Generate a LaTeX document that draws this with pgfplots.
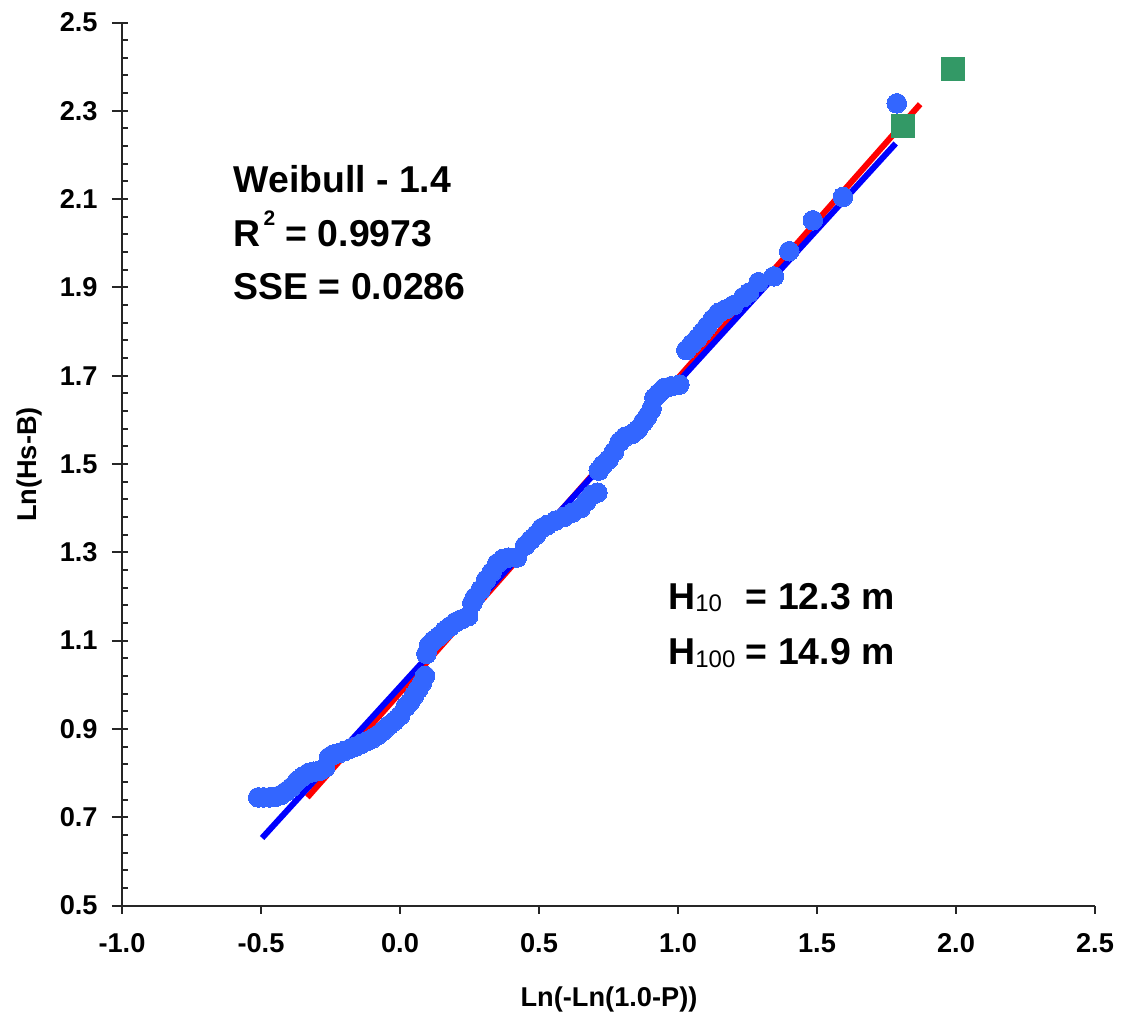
\documentclass[border=0pt]{standalone}
\usepackage{fontspec}
\setmainfont{Liberation Sans}
\usepackage{pgfplots}
\pgfplotsset{compat=1.18}

\definecolor{obsblue}{RGB}{51,102,255}
\definecolor{extgreen}{RGB}{51,153,102}
\definecolor{fitred}{RGB}{255,0,0}
\definecolor{fitblue}{RGB}{0,0,255}

% ranked observations: x = Ln(-Ln(1-P)), y = Ln(Hs-B)
\pgfplotstableread{
x y
-0.51 0.745
-0.49 0.745
-0.47 0.745
-0.45 0.746
-0.43 0.750
-0.41 0.758
-0.39 0.768
-0.37 0.782
-0.35 0.792
-0.33 0.800
-0.31 0.803
-0.29 0.805
-0.27 0.812
-0.255 0.836
-0.24 0.842
-0.22 0.845
-0.20 0.850
-0.18 0.855
-0.16 0.860
-0.14 0.866
-0.12 0.872
-0.10 0.878
-0.08 0.886
-0.06 0.896
-0.04 0.908
-0.02 0.918
0.00 0.930
0.02 0.950
0.035 0.960
0.05 0.975
0.065 0.990
0.08 1.005
0.09 1.020
0.095 1.070
0.105 1.090
0.12 1.100
0.14 1.110
0.16 1.122
0.18 1.132
0.20 1.142
0.22 1.148
0.245 1.155
0.26 1.185
0.27 1.198
0.29 1.215
0.31 1.238
0.33 1.255
0.35 1.275
0.37 1.285
0.39 1.288
0.42 1.288
0.45 1.315
0.47 1.328
0.49 1.340
0.51 1.355
0.53 1.362
0.56 1.372
0.59 1.380
0.62 1.390
0.65 1.400
0.67 1.415
0.69 1.430
0.71 1.435
0.715 1.485
0.73 1.498
0.75 1.510
0.77 1.528
0.79 1.550
0.81 1.562
0.835 1.568
0.855 1.578
0.875 1.595
0.89 1.608
0.905 1.625
0.915 1.650
0.93 1.660
0.95 1.672
0.975 1.676
1.005 1.680
1.03 1.758
1.05 1.772
1.07 1.785
1.09 1.800
1.105 1.812
1.125 1.828
1.145 1.842
1.17 1.850
1.20 1.860
1.235 1.878
1.255 1.888
1.29 1.912
1.345 1.925
1.40 1.982
1.485 2.052
1.593 2.105
1.787 2.317
}\obsdata

\begin{document}
\begin{tikzpicture}
\begin{axis}[
  scale only axis,
  width=486.5pt, height=441.5pt,
  xmin=-1, xmax=2.5, ymin=0.5, ymax=2.5,
  axis lines=left,
  axis line style={-, line width=1pt, black!85},
  clip=false,
  xtick={-1,-0.5,0,0.5,1,1.5,2,2.5},
  ytick={0.5,0.7,0.9,1.1,1.3,1.5,1.7,1.9,2.1,2.3,2.5},
  minor y tick num=4,
  tick align=center,
  major tick length=8pt,
  minor tick length=3pt,
  every tick/.style={line width=1pt, black!85},
  every major y tick/.append style={xshift=-1pt},
  every minor y tick/.append style={xshift=1.5pt},
  every major x tick/.append style={yshift=-2pt, dash pattern=on 0pt off 2pt on 4pt off 2pt},
  tick label style={font=\fontsize{13.6}{16}\selectfont\bfseries},
  xticklabel style={anchor=north, inner sep=0pt, yshift=-10pt},
  yticklabel style={anchor=east, inner sep=0pt, xshift=-8pt},
  /pgf/number format/.cd, fixed, fixed zerofill, precision=1, assume math mode=true,
  /pgfplots/.cd,
  xlabel={Ln(-Ln(1.0-P))},
  ylabel={Ln(Hs-B)},
  every axis x label/.style={at={(rel axis cs:0.5005,-0.1065)}, anchor=center,
    font=\fontsize{13.6}{16}\selectfont\bfseries},
  every axis y label/.style={at={(rel axis cs:-0.0956,0.4994)}, anchor=center, rotate=90,
    font=\fontsize{13.6}{16}\selectfont\bfseries},
]
% picture frame
\path (axis cs:-1.4388,0.2434) rectangle (axis cs:2.5935,2.5510);

\addplot[only marks, mark=*, mark size=4.9pt, mark options={fill=obsblue, draw=obsblue, line width=0pt}]
  table[x=x, y=y] {\obsdata};

\addplot[only marks, mark=square*, mark size=5.75pt, mark options={fill=extgreen, draw=extgreen, line width=0pt}]
  coordinates {(1.810,2.265) (1.990,2.394)};

\addplot[fitred, line width=3pt] coordinates {(-0.333,0.745) (1.871,2.315)};
\addplot[fitblue, line width=3pt] coordinates {(-0.496,0.653) (1.783,2.226)};

\node[anchor=base west, inner sep=0pt, font=\fontsize{18.7}{22}\selectfont\bfseries]
  at (axis cs:-0.60,2.114) {Weibull - 1.4};
\node[anchor=base west, inner sep=0pt, font=\fontsize{18.7}{22}\selectfont\bfseries]
  at (axis cs:-0.60,1.992) {R\hspace{1.5pt}\raisebox{10.5pt}{\fontsize{10.5}{11}\selectfont 2} = 0.9973};
\node[anchor=base west, inner sep=0pt, font=\fontsize{18.7}{22}\selectfont\bfseries]
  at (axis cs:-0.60,1.872) {SSE = 0.0286};
\node[anchor=base west, inner sep=0pt, font=\fontsize{18.7}{22}\selectfont\bfseries]
  at (axis cs:0.964,1.170) {H\raisebox{-1pt}{\fontsize{12}{13}\selectfont\mdseries 10\phantom{0}} = 12.3 m};
\node[anchor=base west, inner sep=0pt, font=\fontsize{18.7}{22}\selectfont\bfseries]
  at (axis cs:0.964,1.045) {H\raisebox{-1.2pt}{\fontsize{12}{13}\selectfont\mdseries 100} = 14.9 m};
\end{axis}
\end{tikzpicture}
\end{document}
